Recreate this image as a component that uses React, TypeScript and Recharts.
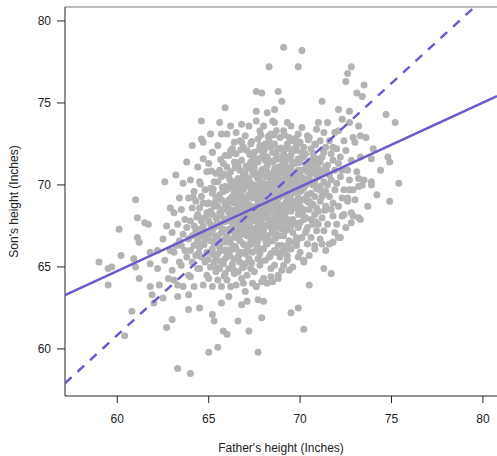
import { ScatterChart, Scatter, XAxis, YAxis, ReferenceLine } from 'recharts';

const xTicks = [60, 65, 70, 75, 80];
const yTicks = [60, 65, 70, 75, 80];
const xDomain = [57.14, 80.77];
const yDomain = [57.13, 80.85];

// [father, son] pairs
const sparseTop = [
  [69.1, 78.4], [70.1, 78.2], [68.3, 77.2], [69.9, 77.2], [67.6, 75.7], [67.9, 75.6], [68.8, 75.7], [69.0, 75.1],
  [65.9, 74.7], [64.6, 73.9], [71.2, 75.1], [67.6, 74.5], [68.2, 74.4], [68.6, 74.6], [68.5, 73.9], [64.7, 72.6],
  [65.2, 72.0], [66.2, 72.1], [66.8, 72.6],
];
const sparseRight = [
  [72.8, 77.2], [72.6, 76.8], [72.5, 76.3], [73.5, 76.1], [73.1, 75.6], [73.4, 75.4], [72.1, 74.6], [72.7, 74.5],
  [74.7, 74.3], [75.2, 73.8], [73.3, 73.0], [74.8, 71.7], [74.9, 71.4], [74.4, 70.9], [73.9, 70.2], [73.9, 70.0],
  [75.4, 70.1], [73.2, 70.4], [73.2, 69.9], [74.9, 69.0], [72.9, 68.1], [73.3, 67.9], [72.8, 67.7], [72.1, 66.8],
  [71.8, 66.5], [71.2, 66.4], [70.8, 66.1], [70.2, 65.4], [71.3, 64.9], [71.7, 64.6], [70.5, 63.9], [72.6, 69.2],
  [72.3, 68.1], [72.7, 69.7], [69.3, 65.7],
];
const sparseLow = [
  [63.3, 58.8], [64.0, 58.5], [65.0, 59.8], [65.5, 60.1], [67.7, 59.8], [62.7, 61.3], [63.0, 61.8], [63.9, 62.4],
  [64.5, 62.5], [65.2, 62.1], [65.3, 61.7], [65.8, 61.1], [66.0, 60.9], [66.6, 61.7], [67.2, 61.1], [67.9, 61.9],
  [70.2, 61.2], [69.5, 62.2], [69.9, 62.5], [69.0, 64.8], [68.8, 64.3], [68.4, 64.4], [67.6, 63.8], [68.0, 62.9],
  [67.7, 63.0], [67.1, 62.9], [66.8, 62.7], [67.0, 63.5], [66.9, 64.0], [66.1, 63.2], [65.7, 62.8], [63.9, 63.3],
  [63.3, 63.2], [62.5, 63.1], [62.0, 62.8],
];
const sparseLeft = [
  [61.0, 69.1], [60.1, 67.3], [61.1, 68.0], [61.5, 67.7], [61.7, 67.6], [61.1, 66.8], [61.2, 66.5], [59.0, 65.3],
  [60.2, 65.7], [59.5, 64.9], [59.7, 65.0], [59.5, 63.9], [60.9, 65.5], [61.0, 65.0], [61.2, 64.3], [61.8, 65.2],
  [62.2, 64.9], [60.8, 62.3], [60.4, 60.8], [61.8, 63.8], [62.3, 63.9], [61.9, 63.3], [61.8, 65.9], [62.2, 66.0],
  [63.1, 64.2],
];

const coreA = [
  [62.8, 64.3], [62.6, 65.4], [62.9, 66.0], [62.5, 66.7], [62.7, 67.5], [62.9, 68.6], [62.6, 70.2],
  [63.3, 63.9], [63.0, 64.8], [63.4, 65.3], [63.1, 65.9], [63.2, 66.3], [63.4, 66.6], [63.0, 67.1], [63.3, 67.6],
  [63.1, 68.3], [63.4, 69.2], [63.2, 70.6],
  [63.6, 63.8], [63.9, 64.5], [63.5, 65.1], [63.8, 65.6], [63.7, 66.0], [63.5, 66.3], [63.9, 66.7], [63.6, 67.0],
  [63.8, 67.4], [63.7, 67.9], [63.5, 68.5], [63.9, 69.2], [63.6, 70.1], [63.8, 71.4],
  [64.2, 63.8], [64.0, 64.4], [64.4, 64.9], [64.1, 65.3], [64.3, 65.7], [64.0, 66.0], [64.2, 66.3], [64.4, 66.6],
  [64.1, 66.9], [64.3, 67.2], [64.2, 67.5], [64.0, 67.8], [64.4, 68.2], [64.1, 68.6], [64.3, 69.0], [64.2, 69.6],
  [64.0, 70.3], [64.4, 71.1], [64.1, 72.4],
  [64.7, 63.9], [64.9, 64.5], [64.5, 64.9], [64.8, 65.3], [64.6, 65.6], [64.9, 65.9], [64.5, 66.2], [64.7, 66.4],
  [64.8, 66.7], [64.6, 66.9], [64.9, 67.1], [64.5, 67.3], [64.7, 67.5], [64.6, 67.8], [64.8, 68.0], [64.9, 68.3],
  [64.5, 68.6], [64.7, 68.9], [64.6, 69.3], [64.8, 69.7], [64.5, 70.2], [64.9, 70.8], [64.7, 71.6], [64.6, 72.8],
];

const coreB = [
  [65.2, 63.8], [65.0, 64.3], [65.4, 64.7], [65.1, 65.0], [65.3, 65.3], [65.4, 65.6], [65.0, 65.9], [65.2, 66.1],
  [65.3, 66.4], [65.1, 66.6], [65.4, 66.8], [65.0, 67.0], [65.2, 67.2], [65.3, 67.4], [65.1, 67.6], [65.0, 67.8],
  [65.4, 68.0], [65.2, 68.2], [65.1, 68.4], [65.3, 68.7], [65.0, 68.9], [65.4, 69.2], [65.2, 69.5], [65.1, 69.8],
  [65.3, 70.2], [65.4, 70.7], [65.0, 71.3], [65.2, 72.0], [65.1, 73.1],
  [65.7, 63.8], [65.5, 64.2], [65.9, 64.6], [65.6, 64.9], [65.8, 65.2], [65.9, 65.5], [65.5, 65.8], [65.7, 66.0],
  [65.6, 66.2], [65.8, 66.5], [65.9, 66.7], [65.5, 66.9], [65.7, 67.1], [65.8, 67.3], [65.6, 67.5], [65.5, 67.7],
  [65.9, 67.9], [65.7, 68.1], [65.6, 68.3], [65.8, 68.5], [65.5, 68.7], [65.9, 68.9], [65.7, 69.1], [65.6, 69.4],
  [65.8, 69.6], [65.9, 69.9], [65.5, 70.2], [65.7, 70.5], [65.6, 70.9], [65.8, 71.3], [65.9, 71.8], [65.5, 72.4],
  [65.7, 73.1], [65.6, 73.8],
  [66.2, 63.8], [66.0, 64.2], [66.4, 64.6], [66.1, 64.9], [66.3, 65.2], [66.4, 65.5], [66.0, 65.8], [66.2, 66.0],
  [66.3, 66.3], [66.1, 66.5], [66.2, 66.7], [66.0, 66.9], [66.4, 67.1], [66.1, 67.3], [66.3, 67.5], [66.4, 67.6],
  [66.0, 67.8], [66.2, 68.0], [66.3, 68.2], [66.1, 68.3], [66.2, 68.5], [66.0, 68.7], [66.4, 68.9], [66.1, 69.1],
  [66.3, 69.3], [66.4, 69.5], [66.0, 69.7], [66.2, 70.0], [66.3, 70.2], [66.1, 70.5], [66.2, 70.8], [66.0, 71.1],
  [66.4, 71.4], [66.1, 71.8], [66.3, 72.2], [66.4, 72.6], [66.0, 73.1], [66.2, 73.6],
  [66.5, 63.9], [66.8, 64.3], [66.6, 64.7], [66.9, 65.0], [66.7, 65.3], [66.6, 65.6], [66.8, 65.9], [66.5, 66.1],
  [66.9, 66.4], [66.7, 66.6], [66.5, 66.8], [66.8, 67.0], [66.6, 67.2], [66.9, 67.4], [66.7, 67.5], [66.6, 67.6],
  [66.8, 67.8], [66.5, 67.9], [66.9, 68.1], [66.7, 68.3], [66.5, 68.4], [66.8, 68.6], [66.6, 68.8], [66.9, 68.9],
  [66.7, 69.0], [66.6, 69.1], [66.8, 69.3], [66.5, 69.5], [66.9, 69.7], [66.7, 69.8], [66.5, 69.9], [66.8, 70.1],
  [66.6, 70.4], [66.9, 70.6], [66.7, 70.9], [66.6, 71.2], [66.8, 71.5], [66.5, 71.9], [66.9, 72.3], [66.7, 72.7],
  [66.5, 73.2], [66.8, 73.7],
];

const coreC = [
  [67.4, 64.0], [67.1, 64.5], [67.3, 64.9], [67.0, 65.2], [67.2, 65.5], [67.0, 65.8], [67.4, 65.9], [67.1, 66.1],
  [67.2, 66.3], [67.3, 66.6], [67.4, 66.8], [67.1, 66.9], [67.3, 67.0], [67.0, 67.2], [67.2, 67.4], [67.0, 67.6],
  [67.4, 67.8], [67.1, 67.9], [67.2, 68.0], [67.3, 68.1], [67.4, 68.3], [67.1, 68.5], [67.3, 68.6], [67.0, 68.7],
  [67.2, 68.8], [67.0, 69.0], [67.4, 69.2], [67.1, 69.3], [67.2, 69.4], [67.3, 69.5], [67.4, 69.7], [67.1, 69.9],
  [67.3, 70.1], [67.0, 70.3], [67.2, 70.4], [67.0, 70.6], [67.4, 70.8], [67.1, 71.0], [67.2, 71.1], [67.3, 71.4],
  [67.4, 71.7], [67.1, 72.1], [67.3, 72.5], [67.0, 73.0], [67.2, 73.6],
  [67.6, 63.8], [67.9, 64.1], [67.5, 64.7], [67.8, 65.1], [67.7, 65.5], [67.8, 65.8], [67.6, 66.0], [67.9, 66.1],
  [67.5, 66.4], [67.7, 66.6], [67.6, 66.9], [67.9, 67.0], [67.5, 67.1], [67.8, 67.3], [67.7, 67.5], [67.8, 67.7],
  [67.6, 67.8], [67.9, 67.9], [67.5, 68.1], [67.7, 68.3], [67.6, 68.4], [67.9, 68.5], [67.5, 68.6], [67.8, 68.8],
  [67.7, 68.9], [67.8, 69.1], [67.6, 69.2], [67.9, 69.3], [67.5, 69.5], [67.7, 69.6], [67.6, 69.8], [67.9, 69.9],
  [67.5, 70.0], [67.8, 70.2], [67.7, 70.4], [67.8, 70.6], [67.6, 70.7], [67.9, 70.9], [67.5, 71.1], [67.7, 71.4],
  [67.6, 71.6], [67.9, 71.7], [67.5, 72.0], [67.8, 72.4], [67.7, 72.8], [67.8, 73.3], [67.6, 73.9],
  [68.2, 64.0], [68.0, 64.3], [68.4, 64.9], [68.1, 65.4], [68.3, 65.6], [68.4, 65.8], [68.0, 66.1], [68.2, 66.4],
  [68.3, 66.6], [68.1, 66.7], [68.2, 66.9], [68.0, 67.2], [68.4, 67.4], [68.1, 67.5], [68.3, 67.6], [68.4, 67.8],
  [68.0, 68.0], [68.2, 68.2], [68.3, 68.3], [68.1, 68.4], [68.2, 68.6], [68.0, 68.7], [68.4, 68.9], [68.1, 69.0],
  [68.3, 69.1], [68.4, 69.2], [68.0, 69.4], [68.2, 69.6], [68.3, 69.7], [68.1, 69.8], [68.2, 69.9], [68.0, 70.1],
  [68.4, 70.3], [68.1, 70.5], [68.3, 70.6], [68.4, 70.7], [68.0, 70.9], [68.2, 71.2], [68.3, 71.4], [68.1, 71.5],
  [68.2, 71.7], [68.0, 72.0], [68.4, 72.3], [68.1, 72.5], [68.3, 72.7], [68.4, 73.1], [68.0, 73.6],
  [68.5, 64.1], [68.8, 64.5], [68.6, 65.1], [68.9, 65.6], [68.7, 65.9], [68.6, 66.0], [68.8, 66.3], [68.5, 66.6],
  [68.9, 66.9], [68.7, 67.0], [68.5, 67.2], [68.8, 67.4], [68.6, 67.6], [68.9, 67.8], [68.7, 67.9], [68.6, 68.0],
  [68.8, 68.2], [68.5, 68.4], [68.9, 68.6], [68.7, 68.7], [68.5, 68.8], [68.8, 68.9], [68.6, 69.1], [68.9, 69.3],
  [68.7, 69.4], [68.6, 69.5], [68.8, 69.6], [68.5, 69.8], [68.9, 70.0], [68.7, 70.1], [68.5, 70.2], [68.8, 70.3],
  [68.6, 70.5], [68.9, 70.7], [68.7, 70.9], [68.6, 71.0], [68.8, 71.1], [68.5, 71.4], [68.9, 71.6], [68.7, 71.9],
  [68.5, 72.0], [68.8, 72.2], [68.6, 72.5], [68.9, 72.9], [68.7, 73.3], [68.6, 73.8],
];

const coreD = [
  [69.4, 64.8], [69.1, 65.1], [69.3, 65.4], [69.0, 65.9], [69.2, 66.1], [69.0, 66.3], [69.4, 66.6], [69.1, 66.9],
  [69.2, 67.2], [69.3, 67.3], [69.4, 67.5], [69.1, 67.7], [69.3, 67.9], [69.0, 68.1], [69.2, 68.3], [69.0, 68.5],
  [69.4, 68.6], [69.1, 68.7], [69.2, 68.9], [69.3, 69.1], [69.4, 69.2], [69.1, 69.4], [69.3, 69.6], [69.0, 69.7],
  [69.2, 69.8], [69.0, 69.9], [69.4, 70.1], [69.1, 70.3], [69.2, 70.4], [69.3, 70.6], [69.4, 70.7], [69.1, 70.8],
  [69.3, 71.0], [69.0, 71.2], [69.2, 71.4], [69.0, 71.6], [69.4, 71.7], [69.1, 71.9], [69.2, 72.2], [69.3, 72.5],
  [69.4, 72.9], [69.1, 73.3], [69.3, 73.8],
  [69.6, 65.0], [69.9, 65.6], [69.5, 66.1], [69.8, 66.3], [69.7, 66.5], [69.8, 66.8], [69.6, 67.1], [69.9, 67.4],
  [69.5, 67.5], [69.7, 67.7], [69.6, 67.9], [69.9, 68.2], [69.5, 68.4], [69.8, 68.6], [69.7, 68.8], [69.8, 68.9],
  [69.6, 69.0], [69.9, 69.2], [69.5, 69.4], [69.7, 69.6], [69.6, 69.7], [69.9, 69.9], [69.5, 70.0], [69.8, 70.1],
  [69.7, 70.3], [69.8, 70.5], [69.6, 70.7], [69.9, 70.9], [69.5, 71.1], [69.7, 71.3], [69.6, 71.4], [69.9, 71.6],
  [69.5, 71.8], [69.8, 72.1], [69.7, 72.2], [69.8, 72.4], [69.6, 72.7], [69.9, 73.1], [69.5, 73.6],
  [70.2, 65.3], [70.0, 65.9], [70.4, 66.4], [70.1, 66.8], [70.3, 67.1], [70.4, 67.4], [70.0, 67.7], [70.2, 67.9],
  [70.3, 68.0], [70.1, 68.3], [70.2, 68.5], [70.0, 68.7], [70.4, 69.0], [70.1, 69.1], [70.3, 69.2], [70.4, 69.4],
  [70.0, 69.6], [70.2, 69.8], [70.3, 70.0], [70.1, 70.2], [70.2, 70.4], [70.0, 70.6], [70.4, 70.8], [70.1, 70.9],
  [70.3, 71.0], [70.4, 71.2], [70.0, 71.5], [70.2, 71.7], [70.3, 71.9], [70.1, 72.0], [70.2, 72.3], [70.0, 72.6],
  [70.4, 73.0], [70.1, 73.5],
  [70.5, 65.7], [70.8, 66.3], [70.6, 66.8], [70.9, 67.2], [70.7, 67.6], [70.6, 67.9], [70.8, 68.2], [70.5, 68.5],
  [70.9, 68.6], [70.7, 68.8], [70.5, 69.0], [70.8, 69.3], [70.6, 69.5], [70.9, 69.8], [70.7, 70.0], [70.6, 70.1],
  [70.8, 70.2], [70.5, 70.4], [70.9, 70.6], [70.7, 70.9], [70.5, 71.1], [70.8, 71.3], [70.6, 71.5], [70.9, 71.6],
  [70.7, 71.9], [70.6, 72.2], [70.8, 72.5], [70.5, 72.9], [70.9, 73.4],
];

const coreE = [
  [71.4, 66.0], [71.1, 66.7], [71.3, 67.2], [71.0, 67.6], [71.2, 68.0], [71.0, 68.4], [71.4, 68.7], [71.1, 69.0],
  [71.2, 69.3], [71.3, 69.5], [71.4, 69.6], [71.1, 69.9], [71.3, 70.2], [71.0, 70.5], [71.2, 70.8], [71.0, 71.0],
  [71.4, 71.1], [71.1, 71.4], [71.2, 71.7], [71.3, 72.0], [71.4, 72.3], [71.1, 72.7], [71.3, 73.2], [71.0, 73.8],
  [71.6, 66.4], [71.9, 67.1], [71.5, 67.6], [71.8, 68.1], [71.7, 68.5], [71.8, 68.9], [71.6, 69.3], [71.9, 69.7],
  [71.5, 70.0], [71.7, 70.3], [71.6, 70.6], [71.9, 70.9], [71.5, 71.2], [71.8, 71.5], [71.7, 71.9], [71.8, 72.3],
  [71.6, 72.7], [71.9, 73.2], [71.5, 73.8],
  [72.2, 66.8], [72.0, 67.6], [72.4, 68.2], [72.1, 68.7], [72.3, 69.2], [72.4, 69.7], [72.0, 70.1], [72.2, 70.5],
  [72.3, 70.9], [72.1, 71.3], [72.2, 71.7], [72.0, 72.2], [72.4, 72.7], [72.1, 73.3], [72.3, 74.0],
  [72.5, 67.4], [72.8, 68.3], [72.6, 69.0], [72.9, 69.7], [72.7, 70.3], [72.6, 70.9], [72.8, 71.5], [72.5, 72.1],
  [72.9, 72.9], [72.7, 73.8],
  [73.2, 68.0], [73.0, 69.1], [73.4, 70.0], [73.1, 70.8], [73.3, 71.7], [73.0, 72.6], [73.2, 73.6],
  [73.7, 68.7], [73.5, 70.3], [73.9, 71.6], [73.6, 72.9],
  [74.2, 69.4], [74.0, 72.2],
];

// extra points in the densest part of the cloud
const coreFill = [
  [64.45, 65.85], [64.25, 66.95], [64.35, 68.05], [64.15, 69.25],
  [64.95, 65.45], [64.75, 66.35], [64.85, 67.15], [64.65, 67.95], [64.95, 68.85], [64.55, 70.05],
  [65.45, 64.95], [65.25, 65.75], [65.35, 66.45], [65.15, 67.05], [65.45, 67.65], [65.05, 68.25], [65.35, 68.95],
  [65.25, 69.75], [65.15, 70.85],
  [65.85, 64.45], [65.65, 65.35], [65.95, 66.05], [65.55, 66.65], [65.75, 67.25], [65.85, 67.75], [65.65, 68.25],
  [65.95, 68.75], [65.55, 69.25], [65.75, 69.85], [65.85, 70.65], [65.65, 71.55],
  [66.35, 64.85], [66.15, 65.65], [66.45, 66.25], [66.05, 66.75], [66.25, 67.25], [66.35, 67.65], [66.15, 68.05],
  [66.45, 68.45], [66.05, 68.85], [66.25, 69.25], [66.35, 69.75], [66.15, 70.35], [66.45, 71.05], [66.25, 71.95],
  [66.85, 64.95], [66.65, 65.75], [66.95, 66.35], [66.55, 66.85], [66.75, 67.35], [66.85, 67.75], [66.65, 68.15],
  [66.95, 68.55], [66.55, 68.95], [66.75, 69.35], [66.85, 69.75], [66.65, 70.25], [66.95, 70.75], [66.55, 71.35],
  [66.75, 72.15],
  [67.35, 65.25], [67.15, 65.95], [67.45, 66.55], [67.05, 67.05], [67.25, 67.45], [67.35, 67.85], [67.15, 68.25],
  [67.45, 68.65], [67.05, 68.95], [67.25, 69.35], [67.35, 69.75], [67.15, 70.15], [67.45, 70.65], [67.05, 71.15],
  [67.25, 71.85], [67.35, 72.65],
  [67.85, 65.35], [67.65, 66.25], [67.95, 66.85], [67.55, 67.35], [67.75, 67.75], [67.85, 68.15], [67.65, 68.55],
  [67.95, 68.95], [67.55, 69.35], [67.75, 69.65], [67.85, 70.05], [67.65, 70.45], [67.95, 70.95], [67.55, 71.45],
  [67.75, 72.15], [67.85, 73.05],
  [68.35, 65.65], [68.15, 66.45], [68.45, 67.05], [68.05, 67.55], [68.25, 67.95], [68.35, 68.45], [68.15, 68.85],
  [68.45, 69.25], [68.05, 69.65], [68.25, 70.05], [68.35, 70.45], [68.15, 70.95], [68.45, 71.45], [68.05, 72.15],
  [68.25, 72.95],
  [68.85, 65.85], [68.65, 66.75], [68.95, 67.35], [68.55, 67.85], [68.75, 68.35], [68.85, 68.75], [68.65, 69.15],
  [68.95, 69.55], [68.55, 69.95], [68.75, 70.45], [68.85, 70.95], [68.65, 71.55], [68.95, 72.25], [68.55, 73.05],
  [69.35, 66.35], [69.15, 67.25], [69.45, 67.85], [69.05, 68.45], [69.25, 68.95], [69.35, 69.45], [69.15, 69.95],
  [69.45, 70.45], [69.05, 70.95], [69.25, 71.55], [69.35, 72.25], [69.15, 73.05],
  [69.85, 66.65], [69.65, 67.65], [69.95, 68.35], [69.55, 68.95], [69.75, 69.55], [69.85, 70.15], [69.65, 70.75],
  [69.95, 71.35], [69.55, 72.05], [69.75, 72.85],
  [70.35, 67.25], [70.15, 68.25], [70.45, 68.95], [70.05, 69.65], [70.25, 70.35], [70.35, 71.05], [70.15, 71.85],
  [70.45, 72.75],
  [70.85, 67.75], [70.65, 68.85], [70.95, 69.75], [70.55, 70.65], [70.75, 71.55], [70.85, 72.45],
  [71.35, 68.45], [71.15, 69.65], [71.45, 70.85], [71.25, 72.15],
];

// regression line and SD line endpoints
const regressionLine = [{ father: 57.14, son: 63.28 }, { father: 80.77, son: 75.42 }];
const sdLine = [{ father: 57.14, son: 57.91 }, { father: 79.54, son: 80.85 }];

const points = [
  ...sparseLeft, ...sparseLow, ...coreA, ...coreB, ...coreFill, ...coreC, ...coreD, ...coreE, ...sparseRight, ...sparseTop,
].map(([father, son]) => ({ father, son }));

const LINE = '#6A5ACD';
const DOT = '#B3B3B3';
const INK = '#222';

const YLabel = ({ viewBox }: any) => {
  const x = viewBox.x + 14;
  const y = viewBox.y + viewBox.height / 2;
  return (
    <text x={x} y={y} transform={`rotate(-90, ${x}, ${y})`} textAnchor="middle" dominantBaseline="central" fontSize={12} fill={INK}>
      Son's height (Inches)
    </text>
  );
};

export default function App() {
  return (
    <div style={{ position: 'absolute', left: 0, top: 0, fontFamily: '"Liberation Sans", Arial, sans-serif' }}>
      <ScatterChart width={497} height={456} margin={{ top: 7, right: 0, bottom: 0, left: 0 }}>
        <XAxis
          type="number" dataKey="father" domain={xDomain} ticks={xTicks} allowDataOverflow height={60}
          tickSize={7} tickMargin={11} axisLine={{ stroke: INK }} tickLine={{ stroke: INK }}
          tick={{ fontSize: 12, fill: INK }}
          label={{ value: "Father's height (Inches)", position: 'insideBottom', offset: 4, fontSize: 12, fill: INK }}
        />
        <YAxis
          type="number" dataKey="son" domain={yDomain} ticks={yTicks} allowDataOverflow width={65}
          tickSize={8} tickMargin={6} axisLine={{ stroke: INK }} tickLine={{ stroke: INK }}
          tick={{ fontSize: 12, fill: INK }}
          label={YLabel}
        />
        <ReferenceLine y={yDomain[1]} stroke="#777" ifOverflow="visible" />
        <Scatter data={points} isAnimationActive={false}
          shape={(p: any) => <circle cx={p.cx} cy={p.cy} r={3.5} fill={DOT} />} />
        <Scatter data={regressionLine} isAnimationActive={false} shape={() => <g />}
          line={{ stroke: LINE, strokeWidth: 2.5 }} />
        <Scatter data={sdLine} isAnimationActive={false} shape={() => <g />}
          line={{ stroke: LINE, strokeWidth: 2.5, strokeDasharray: '9 8' }} />
      </ScatterChart>
    </div>
  );
}
